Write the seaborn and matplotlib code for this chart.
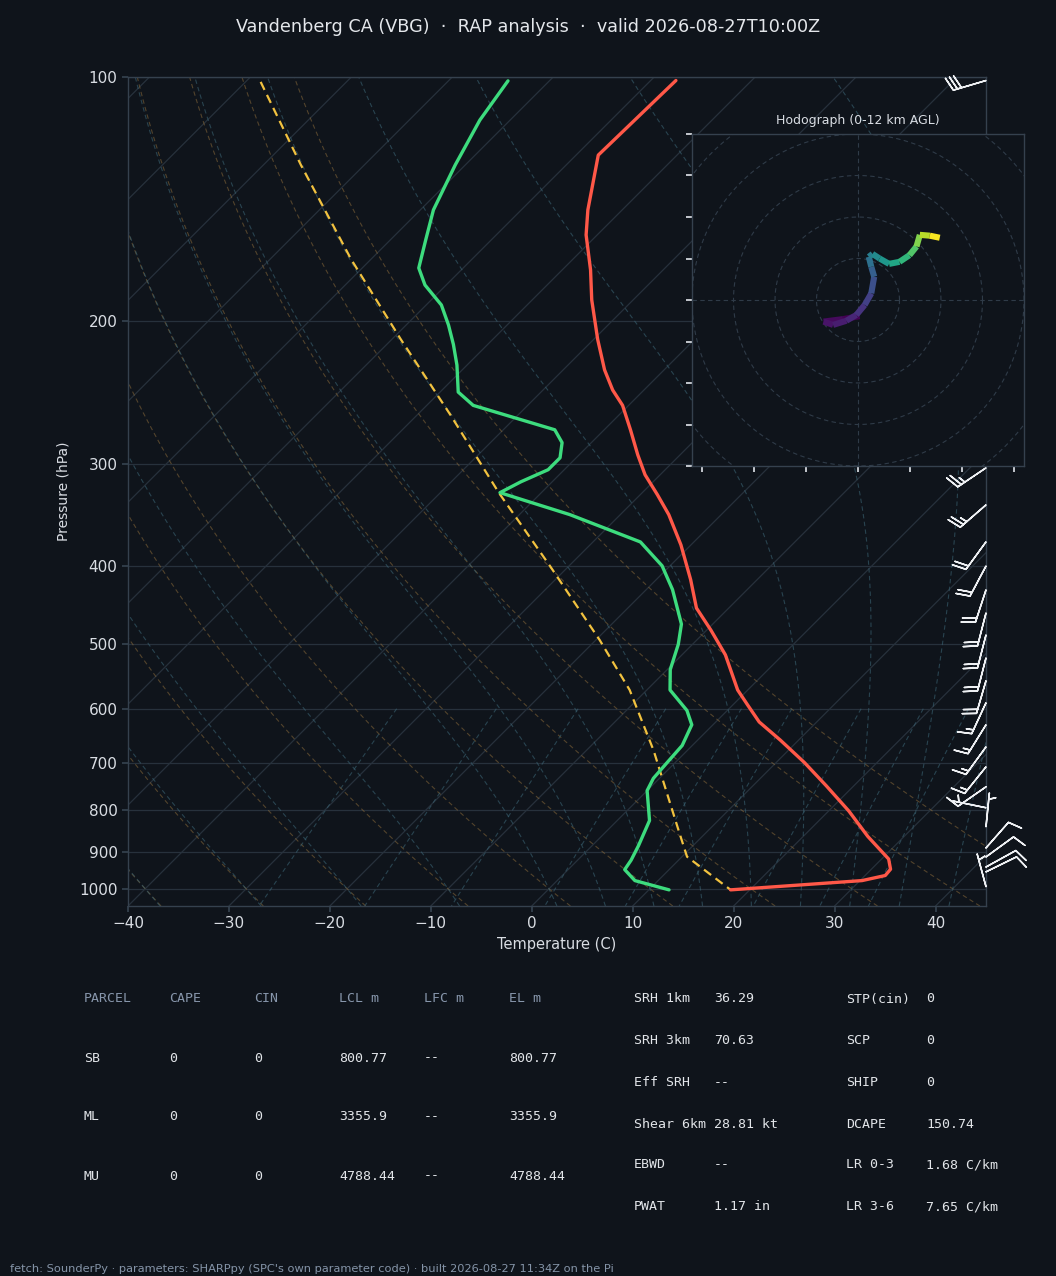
import numpy as np
import pandas as pd
import matplotlib
matplotlib.use("Agg")
import matplotlib.pyplot as plt
import seaborn as sns
from matplotlib import transforms
from matplotlib.collections import LineCollection
from matplotlib.ticker import NullLocator, FixedLocator, NullFormatter

# ---- sounding values (hPa, degC) ----
temp_pres = [101, 124.8, 145.8, 156.5, 172.8, 188.2, 210.5, 229.5, 243, 253.8, 272, 292,
             309, 327, 346, 377, 416, 451, 480, 515, 569, 594, 623, 656, 699, 747, 802,
             862, 919, 946, 963, 977, 1003]
temp_c = [-67.5, -67.8, -63.4, -61.1, -57.2, -54.1, -49.6, -45.9, -43.1, -40.6, -37.4, -34.2,
          -31.5, -28.3, -25.2, -21.0, -16.6, -13.2, -9.6, -5.7, -1.0, 1.5, 4.3, 8.2, 12.8, 17.3,
          22.0, 26.4, 30.7, 31.9, 32.0, 30.2, 18.1]

dwpt_pres = [101.1, 113, 128.3, 145.8, 158.7, 171.9, 180.4, 190.9, 202.1, 213.5, 226.4, 244.4,
             253.8, 272, 282.1, 294.5, 304.6, 315.2, 325.1, 346, 373.9, 400, 428, 472, 500,
             537, 569, 603, 628, 666, 699, 731, 757, 824, 885, 922, 947, 977, 1003]
dwpt_c = [-84.1, -83.0, -81.0, -78.7, -76.5, -74.4, -72.1, -68.5, -65.8, -63.4, -61.0, -58.2,
          -55.4, -44.9, -42.9, -41.6, -41.6, -43.1, -44.1, -35.0, -25.3, -20.8, -17.4, -13.1,
          -11.4, -9.7, -7.7, -4.0, -2.1, -1.0, -0.8, -0.6, 0.0, 3.2, 4.6, 5.3, 5.6, 7.7, 12.0]

parcel_pres = [101.4, 128.3, 167.6, 210.5, 260.8, 325.2, 401.5, 494, 569, 676, 779, 850, 913, 1003]
parcel_c = [-108.5, -96.3, -82.0, -69.1, -56.7, -44.2, -31.7, -19.6, -11.7, -3.3, 3.2, 7.2, 10.5, 18.1]

# wind barbs (hPa, kt)
barb_pres = [101, 303, 336.6, 373.8, 400.3, 428.3, 457.3, 486.7, 519.5, 554.2, 590, 628,
             668.6, 707.6, 748.8, 794.6, 838.6, 890.5, 913.5, 940, 953, 994]
barb_u = [27, 22.4, 18.9, 11.8, 9.4, 6.2, 5.0, 5.0, 5.0, 5.6, 6.3, 7.9, 8.8, 9.4, 8.2,
          4.9, -0.5, -6.6, -8.1, -8.7, -9.0, 1.3]
barb_v = [8, 15.1, 16.4, 16.2, 17.7, 19.0, 19.4, 19.4, 19.4, 19.2, 13.6, 12.7, 12.1, 11.7, 5.7,
          -1.0, -5.0, -7.5, -5.9, -4.8, -4.4, -4.8]

# hodograph (kt) with height (km AGL)
hodo_u = [0.4, -3.6, -8.3, -6.0, -2.8, -0.4, 1.6, 3.2, 3.9, 3.2, 2.6, 3.5, 5.2, 7.5,
          10.0, 12.4, 14.1, 14.9, 17.3, 19.7]
hodo_v = [-3.9, -4.6, -5.2, -6.0, -5.0, -3.6, -1.2, 1.6, 5.6, 8.0, 10.4, 11.1, 10.0, 8.7,
          9.2, 10.8, 12.9, 15.7, 15.5, 15.0]
hodo_hgt = [0.0, 0.3, 0.6, 0.9, 1.2, 1.6, 2.1, 2.7, 3.3, 4.0, 4.6, 5.2, 5.8, 6.5,
            7.2, 8.0, 8.9, 9.8, 10.9, 12.0]

# table text
parcel_header = ["PARCEL", "CAPE", "CIN", "LCL m", "LFC m", "EL m"]
parcel_rows = [["SB", "0", "0", "800.77", "--", "800.77"],
               ["ML", "0", "0", "3355.9", "--", "3355.9"],
               ["MU", "0", "0", "4788.44", "--", "4788.44"]]
param_names_1 = ["SRH 1km", "SRH 3km", "Eff SRH", "Shear 6km", "EBWD", "PWAT"]
param_vals_1 = ["36.29", "70.63", "--", "28.81 kt", "--", "1.17 in"]
param_names_2 = ["STP(cin)", "SCP", "SHIP", "DCAPE", "LR 0-3", "LR 3-6"]
param_vals_2 = ["0", "0", "0", "150.74", "1.68 C/km", "7.65 C/km"]

BG = "#0f141b"
SPINE = "#35414e"
GRIDC = "#27313c"
TXT = "#d9dde3"

sns.set_theme(style="dark", rc={
    "figure.facecolor": BG, "axes.facecolor": BG, "savefig.facecolor": BG,
    "axes.edgecolor": SPINE, "axes.labelcolor": TXT, "text.color": TXT,
    "xtick.color": TXT, "ytick.color": TXT, "xtick.bottom": True, "ytick.left": True,
    "xtick.major.size": 4, "ytick.major.size": 4, "axes.grid": False,
    "axes.linewidth": 1.0,
})
plt.rcParams["font.family"] = ["DejaVu Sans"]

fig = plt.figure(figsize=(10.56, 12.76), dpi=100)
ax = fig.add_axes([128 / 1056, 1 - 906 / 1276, 858 / 1056, 829 / 1276])

XMIN, XMAX = -40, 45
P_BOT, P_TOP = 1050, 100
bb = ax.get_position()
SKEW = (XMAX - XMIN) * (bb.height * 12.76) / (bb.width * 10.56)   # 45 deg in display


def skewed(t, p):
    p = np.asarray(p, dtype=float)
    frac = np.log(P_BOT / p) / np.log(P_BOT / P_TOP)
    return np.asarray(t, dtype=float) + SKEW * frac


ax.set_yscale("log")
ax.set_ylim(P_BOT, P_TOP)
ax.set_xlim(XMIN, XMAX)

# ---- background reference lines ----
p_line = np.geomspace(P_BOT, P_TOP, 80)
for t_iso in np.arange(-130, 50, 10):
    ax.plot(skewed(np.full_like(p_line, t_iso), p_line), p_line, color=GRIDC, lw=0.9, zorder=1)
for p_iso in range(100, 1001, 100):
    ax.axhline(p_iso, color=GRIDC, lw=0.9, zorder=1)

RD, CP, LV, EPS = 287.04, 1005.7, 2.501e6, 0.622
for t0 in np.arange(-50, 51, 10):
    t_dry = (t0 + 273.15) * (p_line / 1000.0) ** (RD / CP) - 273.15
    ax.plot(skewed(t_dry, p_line), p_line, color="#8a6a3a", alpha=0.55, lw=0.8,
            ls=(0, (4, 3)), zorder=1)


def moist_rate(t_k, p):
    es = 6.112 * np.exp(17.67 * (t_k - 273.15) / (t_k - 29.65))
    rs = EPS * es / (p - es)
    return (RD * t_k + LV * rs) / (CP + LV * LV * rs * EPS / (RD * t_k * t_k))


def moist_profile(t0_c, p_grid):
    out = np.empty_like(p_grid)
    out[0] = t0_c + 273.15
    for i in range(1, len(p_grid)):
        t = out[i - 1]
        p0 = p_grid[i - 1]
        h = np.log(p_grid[i] / p0)
        k1 = moist_rate(t, p0)
        k2 = moist_rate(t + 0.5 * h * k1, p0 * np.exp(0.5 * h))
        k3 = moist_rate(t + 0.5 * h * k2, p0 * np.exp(0.5 * h))
        k4 = moist_rate(t + h * k3, p0 * np.exp(h))
        out[i] = t + h * (k1 + 2 * k2 + 2 * k3 + k4) / 6
    return out - 273.15


p_up = np.geomspace(1000, P_TOP, 120)
p_dn = np.geomspace(1000, P_BOT, 6)
moist_t0 = np.concatenate((np.arange(-50, 0, 10), np.arange(0, 51, 5)))
for t0 in moist_t0:
    tu = moist_profile(t0, p_up)
    td = moist_profile(t0, p_dn)
    pp = np.concatenate((p_dn[::-1], p_up[1:]))
    tt = np.concatenate((td[::-1], tu[1:]))
    ax.plot(skewed(tt, pp), pp, color="#3a6373", alpha=0.6, lw=0.8, ls=(0, (4, 3)), zorder=1)

p_mix = np.linspace(600, P_BOT, 40)
for w in [0.0004, 0.001, 0.002, 0.004, 0.007, 0.01, 0.016, 0.024, 0.032]:
    e = p_mix * w / (EPS + w)
    ln_e = np.log(e / 6.112)
    t_mix = 243.5 * ln_e / (17.67 - ln_e)
    ax.plot(skewed(t_mix, p_mix), p_mix, color="#3a6373", alpha=0.6, lw=0.8,
            ls=(0, (4, 3)), zorder=1)

# ---- sounding traces ----
df_t = pd.DataFrame({"x": skewed(temp_c, temp_pres), "p": temp_pres})
df_d = pd.DataFrame({"x": skewed(dwpt_c, dwpt_pres), "p": dwpt_pres})
df_p = pd.DataFrame({"x": skewed(parcel_c, parcel_pres), "p": parcel_pres})
sns.lineplot(data=df_p, x="x", y="p", sort=False, estimator=None, ax=ax, color="#f2c23f",
             lw=1.6, linestyle=(0, (4, 2.5)), zorder=3)
sns.lineplot(data=df_t, x="x", y="p", sort=False, estimator=None, ax=ax, color="#ff5848",
             lw=2.4, zorder=4)
sns.lineplot(data=df_d, x="x", y="p", sort=False, estimator=None, ax=ax, color="#3ddc7e",
             lw=2.4, zorder=4)

ax.set_xlim(XMIN, XMAX)
ax.set_ylim(P_BOT, P_TOP)
ax.yaxis.set_major_locator(FixedLocator(range(100, 1001, 100)))
ax.yaxis.set_minor_locator(NullLocator())
ax.yaxis.set_minor_formatter(NullFormatter())
ax.set_yticklabels([str(v) for v in range(100, 1001, 100)])
ax.set_xticks(range(-40, 41, 10))
ax.tick_params(labelsize=11, colors=TXT)
ax.tick_params(axis="both", color=SPINE)
ax.set_xlabel("Temperature (C)", fontsize=10.5, labelpad=4)
ax.set_ylabel("Pressure (hPa)", fontsize=10, labelpad=6)

# wind barbs on the right edge
btrans = transforms.blended_transform_factory(ax.transAxes, ax.transData)
ax.barbs(np.ones(len(barb_pres)), barb_pres, barb_u, barb_v, transform=btrans,
         clip_on=False, color="#eef0f3", linewidth=1.1, length=7, zorder=5)

# ---- hodograph inset ----
hx = fig.add_axes([692 / 1056, 1 - 466 / 1276, 332 / 1056, 332 / 1276])
hx.set_facecolor(BG)
for s in hx.spines.values():
    s.set_color(SPINE)
ang = np.linspace(0, 2 * np.pi, 200)
for r in range(10, 61, 10):
    hx.plot(r * np.cos(ang), r * np.sin(ang), color="#2f3b48", lw=0.8, ls=(0, (4, 3)))
hx.axhline(0, color="#2f3b48", lw=0.8, ls=(0, (4, 3)))
hx.axvline(0, color="#2f3b48", lw=0.8, ls=(0, (4, 3)))
pts = np.column_stack([hodo_u, hodo_v]).reshape(-1, 1, 2)
segs = np.concatenate([pts[:-1], pts[1:]], axis=1)
lc = LineCollection(segs, cmap="viridis", linewidths=4.4, capstyle="butt")
lc.set_array(np.asarray(hodo_hgt[:-1]))
lc.set_clim(0, 11)
hx.add_collection(lc)
hx.set_xlim(-40, 40)
hx.set_ylim(-40, 40)
hx.set_aspect("equal")
hx.set_xticks(np.arange(-37.5, 38, 12.5))
hx.set_yticks(range(-40, 41, 10))
hx.tick_params(labelbottom=False, labelleft=False, color=TXT, length=4)
hx.set_title("Hodograph (0-12 km AGL)", fontsize=9, color=TXT, pad=7)

# ---- title, tables, footer ----
fig.text(0.5, 1 - 27 / 1276, "Vandenberg CA (VBG)  \u00b7  RAP analysis  \u00b7  valid 2026-08-27T10:00Z",
         ha="center", va="center", fontsize=12.7, color="#e4e7eb")

col_x = [84, 169, 254, 339, 424, 509]
row_y = [999, 1058, 1117, 1176]
mono = dict(family="DejaVu Sans Mono", fontsize=9.5, va="center", ha="left")
for cx, h in zip(col_x, parcel_header):
    fig.text(cx / 1056, 1 - row_y[0] / 1276, h, color="#8796ab", **mono)
for ry, row in zip(row_y[1:], parcel_rows):
    for cx, val in zip(col_x, row):
        fig.text(cx / 1056, 1 - ry / 1276, val, color="#e2e5e9", **mono)

prow_y = [999, 1041, 1083, 1124, 1165, 1207]
for ry, n1, v1, n2, v2 in zip(prow_y, param_names_1, param_vals_1, param_names_2, param_vals_2):
    fig.text(634 / 1056, 1 - ry / 1276, n1, color="#e2e5e9", **mono)
    fig.text(714 / 1056, 1 - ry / 1276, v1, color="#e2e5e9", **mono)
    fig.text(846 / 1056, 1 - ry / 1276, n2, color="#e2e5e9", **mono)
    fig.text(926 / 1056, 1 - ry / 1276, v2, color="#e2e5e9", **mono)

fig.text(10 / 1056, 1 - 1269 / 1276,
         "fetch: SounderPy \u00b7 parameters: SHARPpy (SPC's own parameter code) \u00b7 built 2026-08-27 11:34Z on the Pi",
         ha="left", va="center", fontsize=8.2, color="#8594a8")

fig.savefig("out.png", dpi=100, facecolor=BG)
